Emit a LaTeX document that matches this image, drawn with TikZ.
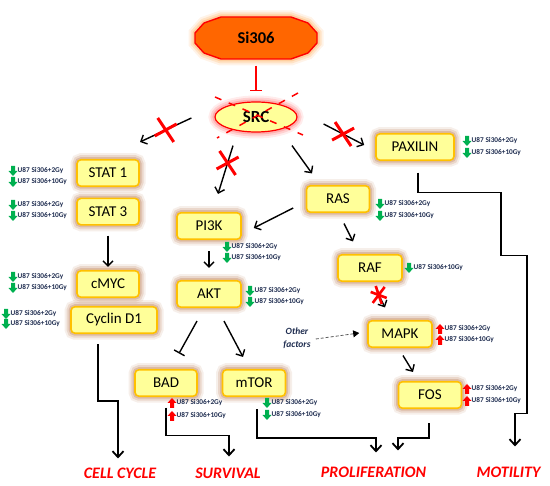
\documentclass[tikz,border=0pt]{standalone}
\usepackage{fontspec}
\setmainfont{Carlito}
\usetikzlibrary{arrows.meta, shapes.geometric, calc, positioning}
\definecolor{boxFill}{HTML}{FFFF99}
\definecolor{boxLine}{HTML}{FFC000}
\definecolor{boxGlow}{HTML}{B9784F}
\definecolor{drugFill}{HTML}{FF6600}
\definecolor{drugGlow}{HTML}{FFA040}
\definecolor{srcGlow}{HTML}{FF6060}
\definecolor{downGreen}{HTML}{00B050}
\definecolor{doseText}{HTML}{1F2D50}

\tikzset{
    glow/.style={preaction={draw=#1, line width=13pt, draw opacity=.12},
                 preaction={draw=#1, line width=9pt, draw opacity=.2},
                 preaction={draw=#1, line width=5pt, draw opacity=.3}},
    protein/.style={draw=boxLine, line width=1.6pt, fill=boxFill, rounded corners=4pt, glow=boxGlow,
                    minimum width=#1, minimum height=\boxH, inner sep=0pt, font=\fontsize{15}{18}\selectfont},
    protein/.default=63,
    dose/.style={font=\fontsize{7.3}{8}\selectfont\bfseries, text=doseText, inner sep=0pt, anchor=west},
    outcome/.style={font=\fontsize{16}{18}\selectfont\bfseries\itshape, text=red, inner sep=0pt},
    act/.style={-{Straight Barb[length=5pt, width=10pt]}, line width=1.4pt},
    inh/.style={-{Bar[width=12pt]}, line width=1.4pt},
    route/.style={-{Straight Barb[length=6pt, width=11pt]}, line width=1.8pt},
    cutMark/.pic={\draw[red, line width=3pt] (-8,-12) -- (8,12) (-11,6) -- (11,-6);},
    starMark/.pic={\draw[red, line width=2.6pt] (-8,-3) -- (8,3) (-3,-9) -- (3,9) (6,-8) -- (-6,8);},
}

\begin{document}
\begin{tikzpicture}[x=1pt, y=-1pt]%
    \def\boxH{26.5}
    \useasboundingbox (0,0) rectangle (550,486);

    % drug
    \begin{scope}[shift={(256,38)}]
        \draw [draw=red, line width=1.4pt, fill=drugFill, glow=drugGlow] (-35,-21) -- (35,-21) -- (52,-15) -- (61,-5) -- (61,5) -- (52,15) -- (35,21)
            -- (-35,21) -- (-52,15) -- (-61,5) -- (-61,-5) -- (-52,-15) -- cycle;
    \end{scope}
    \node (si306) [minimum width=122, minimum height=43, inner sep=0pt, font=\fontsize{16.5}{18}\selectfont\bfseries] at (256,38) {Si306};
    \node (src) [ellipse, draw=red, line width=1.2pt, fill=boxFill, glow=srcGlow, minimum width=82, minimum height=30, inner sep=0pt,
        font=\fontsize{17}{18}\selectfont\bfseries] at (256,117) {SRC};
    \draw [red, line width=1.5pt, dash pattern=on 7pt off 8pt] ($(src)+(-41,-20)$) -- ($(src)+(47,18)$) ($(src)+(42,-24)$) -- ($(src)+(-39,21)$);
    \draw [inh, red] ($(si306.south)+(0,6)$) -- ($(src.north)+(0,-10)$);

    \node (stat1) [protein=62] at (108,173) {STAT 1};
    \node (stat3) [protein=62, below=10.5pt of stat1] {STAT 3};
    \node (cmyc) [protein=62] at (108,284) {cMYC};
    \node (cyclin) [protein=86] at (114,320) {Cyclin D1};
    \node (pi3k) [protein=64] at (209,226) {PI3K};
    \node (akt) [protein=64] at (209,294) {AKT};
    \node (bad) [protein=62] at (166,383) {BAD};
    \node (mtor) [protein=63] at (254,383) {mTOR};
    \node (ras) [protein=63] at (338,199) {RAS};
    \node (raf) [protein=64] at (370,268) {RAF};
    \node (mapk) [protein=64] at (400,334) {MAPK};
    \node (fos) [protein=63] at (430,395) {FOS};
    \node (paxilin) [protein=78] at (415,147) {PAXILIN};

    % dose labels: 1 = down, -1 = up
    \foreach \ax/\ay/\d/\txt [count=\i] in {13/171/1/U87 Si306+2Gy, 13/182/1/U87 Si306+10Gy,
            13/205/1/U87 Si306+2Gy, 13/216/1/U87 Si306+10Gy, 13/277/1/U87 Si306+2Gy, 13/288/1/U87 Si306+10Gy,
            6/314/1/U87 Si306+2Gy, 6/324/1/U87 Si306+10Gy, 467/141/1/U87 Si306+2Gy, 467/153/1/U87 Si306+10Gy,
            380/204/1/U87 Si306+2Gy, 380/216/1/U87 Si306+10Gy, 227/247/1/U87 Si306+2Gy, 227/258/1/U87 Si306+10Gy,
            250/291/1/U87 Si306+2Gy, 250/302/1/U87 Si306+10Gy, 409/268/1/U87 Si306+10Gy,
            440/329/-1/U87 Si306+2Gy, 440/340/-1/U87 Si306+10Gy, 467/389/-1/U87 Si306+2Gy, 467/401/-1/U87 Si306+10Gy,
            172/403/-1/U87 Si306+2Gy, 172/416/-1/U87 Si306+10Gy, 267/403/1/U87 Si306+2Gy, 267/415/1/U87 Si306+10Gy}{
        \ifnum\d=1 \def\clr{downGreen}\else \def\clr{red}\fi
        \fill [\clr, shift={(\ax,\ay)}, yscale=\d] (-2,-5) -- (2,-5) -- (2,0) -- (4.5,0) -- (0,5) -- (-4.5,0) -- (-2,0) -- cycle;
        \node (dose-\i) [dose] at (\ax+4.5,\ay) {\txt};
    }

    \node (other) [font=\fontsize{9.5}{13}\selectfont\bfseries\itshape, text=doseText, align=center, inner sep=0pt] at (297,338) {Other\\factors};

    \node (cellcycle) [outcome] at (120,473) {CELL CYCLE};
    \node (survival) [outcome] at (228,473) {SURVIVAL};
    \node (prolif) [outcome] at (373.5,472) {PROLIFERATION};
    \node (motility) [outcome] at (508.5,472) {MOTILITY};

    % signalling
    \draw [act] ($(src.west)+(-23,1)$) -- coordinate[pos=.5] (cutStat) ($(stat1.north)+(32,-17)$);
    \draw [act] ($(src.south)+(-23,13)$) -- coordinate[pos=.36] (cutPi) ($(pi3k.north)+(9,-18)$);
    \draw [act] ($(src.south)+(36,13)$) -- ($(ras.north)+(-26,-11.5)$);
    \draw [act] ($(src.east)+(26,7)$) -- coordinate[pos=.48] (cutPax) ($(paxilin.west)+(-11,-2)$);
    \draw [act] ($(ras.west)+(-12.5,9)$) -- ($(pi3k.east)+(12,2)$);
    \draw [act] ($(ras.south)+(6,10.5)$) -- ($(raf.north)+(-17,-12.5)$);
    \draw [act] ($(raf.south)+(8,11.5)$) -- coordinate[pos=.1] (cutRaf) ($(mapk.north)+(-15,-12.5)$);
    \draw [act] ($(mapk.south)+(3,7.5)$) -- ($(fos.north)+(-17,-9)$);
    \draw [act] ($(pi3k.south)+(0,11)$) -- ($(akt.north)+(0,-12)$);
    \draw [inh] ($(akt.south)+(-12,13)$) -- ($(bad.north)+(13,-15.5)$);
    \draw [act] ($(akt.south)+(15,13)$) -- ($(mtor.north)+(-11,-12)$);
    \draw [act] ($(stat3.south)+(0,10)$) -- ($(cmyc.north)+(0,-3)$);
    \draw [-{Triangle[length=6pt, width=7pt, black]}, gray!70!black, line width=.8pt, dash pattern=on 3pt off 2pt]
        ($(other.east)+(5,1)$) -- ($(mapk.west)+(-8,-1)$);
    \pic at (cutStat) {cutMark};
    \pic at (cutPi) {cutMark};
    \pic at (cutPax) {cutMark};
    \pic at (cutRaf) {starMark};

    % outcomes
    \draw [route] ($(cyclin.south)+(-16,10)$) -- ++(0,57) -| ($(cellcycle.north)+(-2,-9)$);
    \draw [route] ($(bad.south)+(0,10.5)$) -- ++(0,28) -| ($(survival.north)+(1,-11)$);
    \draw [route] ($(mtor.south)+(3,12)$) -- ++(0,29) -| ($(prolif.north)+(2.5,-14)$);
    \draw [route] ($(fos.south)+(-1,14)$) -- ++(0,15) -| ($(prolif.north)+(24.5,-16)$);
    \draw [route] ($(paxilin.south)+(3,11.5)$) -- ++(0,20) -- ++(83,0) -- ++(0,63) -- ++(26,0) -- ++(0,158) -| ($(motility.north)+(6.5,-20)$);
\end{tikzpicture}
\end{document}
